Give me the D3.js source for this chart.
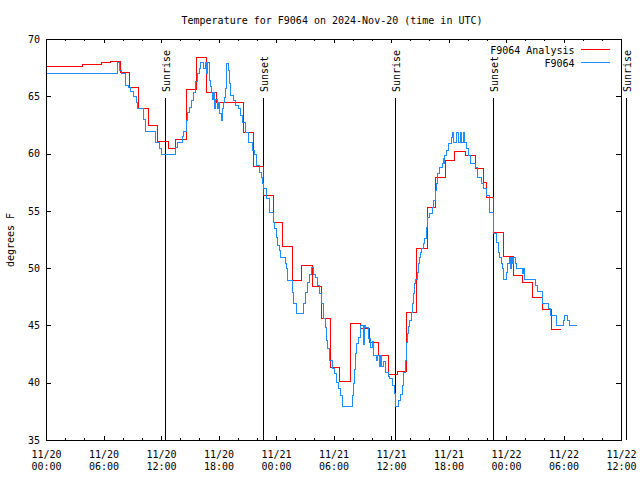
<!DOCTYPE html>
<html><head><meta charset="utf-8">
<script src="https://cdn.jsdelivr.net/npm/d3@7"></script>
<style>
body{margin:0;background:#fff}
svg{display:block}
text{font-family:"DejaVu Sans Mono","Liberation Mono",monospace;font-size:10px;fill:#000}
</style></head>
<body><svg id="c" width="640" height="480"></svg>
<script>
// ---- data (hours since 2024-11-20 00:00 UTC, degrees F) ----
const titleText = "Temperature for F9064 on 2024-Nov-20 (time in UTC)";
const yLabel = "degrees F";
const seriesNames = ["F9064 Analysis", "F9064"];
const seriesColors = ["#ff0000", "#1e8cff"];
const yTicks = [35, 40, 45, 50, 55, 60, 65, 70];
const eventNames = ["Sunrise", "Sunset", "Sunrise", "Sunset", "Sunrise"];
const eventHours = [12.42, 22.68, 36.42, 46.65, 60.52];

const analysis = [[0,67.64],[3.72,67.8],[5.74,68.0],[6.68,68.1],[7.72,67.15],[8.7,65.8],[9.63,63.95],[10.68,62.5],[11.6,61.1],[12.7,60.45],[13.42,61.3],[14.66,65.6],[15.63,68.45],[16.66,65.4],[17.7,64.53],[20.59,61.9],[21.57,58.9],[22.68,56.4],[23.72,54.0],[24.66,51.96],[25.64,48.96],[26.57,50.27],[27.72,48.44],[28.66,45.67],[29.64,41.4],[30.61,40.18],[31.72,45.18],[32.77,44.75],[33.7,43.58],[34.68,42.4],[35.7,40.73],[36.6,41.0],[37.57,46.15],[38.6,51.76],[39.72,55.36],[40.62,57.93],[41.67,59.44],[42.61,60.2],[43.72,59.9],[44.77,58.77],[45.63,57.5],[45.9,56.2],[46.68,53.13],[47.65,51.06],[48.7,49.4],[49.7,48.82],[50.68,47.5],[51.72,46.43],[52.7,44.66],[53.7,44.66]];

const observed = [[0,67.0],[7.44,68.0],[7.6,67.3],[7.79,67.0],[8.24,66.0],[8.6,65.8],[8.77,65.5],[9.11,65.0],[9.39,64.5],[9.53,63.95],[10.09,63.0],[10.33,62.0],[11.37,61.0],[11.83,60.5],[11.96,59.95],[13.46,60.6],[13.63,61.0],[14.16,61.5],[14.26,62.0],[14.61,62.9],[14.75,63.65],[14.96,64.1],[15.17,64.7],[15.37,65.4],[15.58,66.3],[15.72,67.0],[15.93,67.5],[16.07,67.95],[16.42,67.5],[16.56,67.95],[16.7,67.0],[16.84,67.95],[16.98,66.4],[17.12,65.9],[17.19,65.4],[17.33,64.8],[17.45,65.4],[17.55,63.95],[17.68,64.8],[17.8,63.95],[17.95,64.5],[18.05,63.5],[18.25,62.93],[18.35,63.95],[18.44,64.5],[18.58,64.97],[18.68,65.7],[18.75,66.6],[18.8,67.93],[18.95,67.3],[19.09,66.13],[19.2,65.1],[19.47,64.7],[19.72,64.24],[20.07,63.95],[20.24,63.37],[20.42,62.78],[20.77,61.9],[21.11,61.0],[21.46,60.3],[21.7,59.94],[21.91,59.0],[22.26,58.42],[22.4,57.98],[22.5,57.4],[22.61,56.97],[23.0,56.1],[23.3,54.93],[23.72,54.05],[23.82,53.47],[23.97,52.75],[24.14,52.02],[24.31,51.58],[24.42,50.95],[24.94,50.42],[25.05,49.99],[25.19,48.96],[25.64,47.94],[25.81,47.0],[26.05,46.05],[26.78,46.93],[27.0,47.94],[27.27,48.82],[27.48,49.49],[27.62,50.07],[27.9,49.5],[28.04,49.2],[28.32,48.53],[28.52,47.86],[28.66,46.98],[28.87,46.35],[28.94,45.62],[29.11,44.9],[29.22,43.73],[29.36,43.0],[29.57,41.98],[29.81,41.26],[30.05,40.82],[30.23,40.09],[30.5,39.51],[30.68,38.93],[30.92,37.97],[31.9,38.93],[32.0,39.95],[32.14,41.2],[32.24,42.57],[32.35,43.44],[32.52,44.02],[32.77,45.04],[33.05,43.4],[33.15,45.0],[33.29,44.9],[33.63,43.88],[33.81,43.14],[33.98,43.6],[34.1,42.4],[34.44,41.98],[34.57,42.4],[34.7,41.46],[34.85,42.4],[35.0,41.46],[35.2,41.9],[35.37,40.96],[35.72,40.6],[35.82,40.38],[36.07,39.8],[36.31,39.07],[36.42,37.97],[36.76,38.49],[36.94,39.02],[37.11,39.8],[37.29,40.96],[37.46,41.98],[37.57,43.58],[37.71,44.3],[37.81,44.95],[37.92,45.47],[38.06,46.2],[38.2,47.0],[38.33,47.8],[38.44,48.68],[38.55,49.03],[38.75,49.69],[38.86,50.42],[38.96,51.0],[39.03,51.44],[39.14,51.73],[39.31,52.17],[39.48,52.6],[39.65,53.56],[39.79,54.49],[39.93,54.79],[40.24,55.36],[40.41,55.95],[40.59,56.82],[40.69,57.4],[40.83,58.28],[41.04,58.85],[41.28,59.15],[41.4,59.6],[41.45,59.15],[41.52,59.88],[41.73,60.31],[41.97,60.9],[42.21,61.47],[42.35,61.9],[42.45,60.98],[42.8,61.9],[42.94,60.98],[43.15,61.9],[43.29,60.98],[43.5,61.9],[43.63,60.98],[43.84,60.46],[44.08,59.88],[44.26,59.15],[44.77,58.85],[44.95,57.98],[45.4,57.4],[45.57,56.97],[45.91,56.39],[46.26,54.93],[46.61,54.49],[46.68,53.04],[46.96,52.31],[47.2,51.44],[47.3,51.0],[47.45,50.42],[47.58,49.99],[47.72,49.03],[48.0,49.69],[48.14,50.48],[48.35,50.95],[48.45,50.0],[48.49,50.95],[48.63,50.48],[48.76,50.95],[48.91,50.48],[49.05,49.99],[49.64,49.55],[49.81,49.99],[49.91,49.03],[51.03,48.53],[51.2,48.0],[51.73,46.99],[52.42,46.5],[52.59,45.91],[53.22,45.04],[53.9,45.47],[54.1,45.91],[54.4,45.47],[54.55,45.04],[55.31,45.04]];

// ---- chart ----
const START = Date.UTC(2024, 10, 20, 0, 0);
const toDate = h => new Date(START + h * 3600e3);
const x = d3.scaleUtc().domain([toDate(0), toDate(60)]).range([46, 621]);
const y = d3.scaleLinear().domain([35, 70]).range([440, 39]);
const MONO = '"DejaVu Sans Mono","Liberation Mono",monospace';

const svg = d3.select("#c");
svg.append("rect").attr("width", 640).attr("height", 480).attr("fill", "#fff");

function clean(g) {
  g.select(".domain").remove();
  g.attr("font-family", MONO).attr("font-size", 10);
  g.selectAll("line").attr("shape-rendering", "crispEdges");
}
// minor & major x ticks, bottom and top (inward)
svg.append("g").attr("transform", "translate(0,440)")
  .call(d3.axisBottom(x).ticks(d3.utcHour.every(2)).tickSize(-2).tickFormat("")).call(clean);
svg.append("g").attr("transform", "translate(0,440)")
  .call(d3.axisBottom(x).ticks(d3.utcHour.every(6)).tickSize(-4).tickFormat("")).call(clean);
svg.append("g").attr("transform", "translate(0,39)")
  .call(d3.axisTop(x).ticks(d3.utcHour.every(2)).tickSize(-2).tickFormat("")).call(clean);
svg.append("g").attr("transform", "translate(0,39)")
  .call(d3.axisTop(x).ticks(d3.utcHour.every(6)).tickSize(-4).tickFormat("")).call(clean);
// y ticks
svg.append("g").attr("transform", "translate(46,0)")
  .call(d3.axisLeft(y).tickValues(yTicks).tickSize(-5).tickPadding(6).tickFormat(d3.format("d"))).call(clean);
svg.append("g").attr("transform", "translate(621,0)")
  .call(d3.axisRight(y).tickValues(yTicks).tickSize(-5).tickFormat("")).call(clean);

// x tick labels (two lines)
const fDay = d3.utcFormat("%m/%d"), fTime = d3.utcFormat("%H:%M");
const xl = svg.append("g").selectAll("text").data(x.ticks(d3.utcHour.every(6))).join("text")
  .attr("text-anchor", "middle");
xl.append("tspan").attr("x", d => x(d) + 0.5).attr("y", 457.5).text(d => fDay(d));
xl.append("tspan").attr("x", d => x(d) + 0.5).attr("y", 470).text(d => fTime(d));

// frame
svg.append("rect").attr("x", 46.5).attr("y", 39.5).attr("width", 575).attr("height", 401)
  .attr("fill", "none").attr("stroke", "#000").attr("shape-rendering", "crispEdges");

// sunrise / sunset markers
eventHours.forEach((h, i) => {
  const xp = x(toDate(h));
  svg.append("line").attr("x1", xp + 0.5).attr("x2", xp + 0.5).attr("y1", 98).attr("y2", 440)
    .attr("stroke", "#000").attr("shape-rendering", "crispEdges");
  svg.append("text").attr("transform", `translate(${xp + 5},92) rotate(-90)`)
    .attr("text-anchor", "start").text(eventNames[i]);
});

// data lines
const line = d3.line()
  .x(d => x(toDate(d[0])) + 0.5)
  .y(d => y(d[1]) + 0.5)
  .curve(d3.curveStepAfter);
[analysis, observed].forEach((s, i) => {
  svg.append("path").datum(s).attr("d", line).attr("fill", "none")
    .attr("stroke", seriesColors[i]).attr("stroke-width", 1).attr("shape-rendering", "crispEdges");
});

// legend
seriesNames.forEach((n, i) => {
  const yy = 49.5 + i * 13;
  svg.append("text").attr("x", 574.5).attr("y", yy + 4.5).attr("text-anchor", "end").text(n);
  svg.append("line").attr("x1", 581).attr("x2", 610).attr("y1", yy).attr("y2", yy)
    .attr("stroke", seriesColors[i]).attr("shape-rendering", "crispEdges");
});

// title and y label
svg.append("text").attr("x", 332).attr("y", 24).attr("text-anchor", "middle").text(titleText);
svg.append("text").attr("transform", "translate(14,240) rotate(-90)").attr("text-anchor", "middle").text(yLabel);
</script></body></html>
